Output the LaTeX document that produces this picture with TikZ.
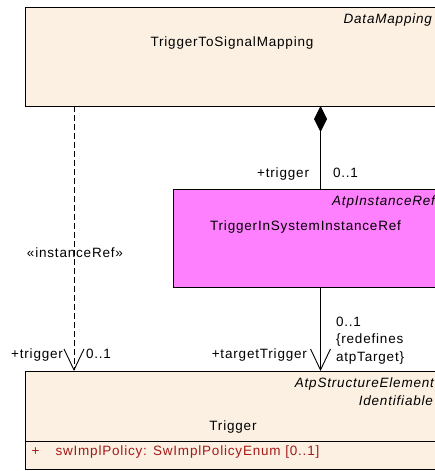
\documentclass[tikz,border=0pt]{standalone}
\usepackage{fontspec}
\setmainfont{Liberation Sans}[LetterSpace=6]
\usetikzlibrary{arrows.meta}
\definecolor{beige}{RGB}{251,240,226}
\definecolor{mag}{RGB}{255,128,255}
\definecolor{attr}{RGB}{165,25,25}
\begin{document}
\begin{tikzpicture}[x=1pt,y=-1pt,
  every node/.style={font=\fontsize{13.5}{15}\selectfont, inner sep=0pt, outer sep=0pt},
  box/.style={draw, line width=0.9pt, anchor=north west},
  lbl/.style={anchor=base},
  lblr/.style={anchor=base east},
  lbll/.style={anchor=base west},
  stereo/.style={anchor=base east, font=\fontsize{13.5}{15}\selectfont\itshape},
  conn/.style={line width=0.9pt},
  openarrow/.style={-{Straight Barb[length=21pt,width=20pt,line width=0.9pt]}}]
\useasboundingbox (0,0) rectangle (434,471);
% boxes
\node[box, fill=beige, minimum width=415pt, minimum height=99pt] (tsm) at (25,7) {};
\node[box, fill=mag, minimum width=267pt, minimum height=98pt] (tisir) at (173,189) {};
\node[box, fill=beige, minimum width=415pt, minimum height=98pt] (trg) at (25,371) {};
\coordinate (sep) at (25,441);
\draw[line width=0.9pt] (sep) -- (sep -| trg.east);
% texts
\node[stereo] (s1) at (432,23.5) {DataMapping};
\node[lbl] (n1) at (232,46) {TriggerToSignalMapping};
\node[stereo] (s2) at (435,205) {AtpInstanceRef};
\node[lbl] (n2) at (305.5,230) {TriggerInSystemInstanceRef};
\node[stereo] (s3) at (434,387) {AtpStructureElement};
\node[stereo] (s4) at (433,405) {Identifiable};
\node[lbl] (n3) at (233,430) {Trigger};
\node[lbl, text=attr] (ap) at (35.5,455) {+};
\node[lbll, text=attr] (at) at (55.5,455) {swImplPolicy: SwImplPolicyEnum [0..1]};
% connectors
\coordinate (xd) at (74,0);
\coordinate (xc) at (320.5,0);
\draw[conn, dash pattern=on 6pt off 3pt, openarrow] (tsm.south -| xd) -- (trg.north -| xd);
\draw[conn, {Diamond[length=26pt,width=13pt]}-] (tsm.south -| xc) -- (tisir.north -| xc);
\draw[conn, openarrow] (tisir.south -| xc) -- (trg.north -| xc);
% connector labels
\node[lbl] (l1) at (75,257) {«instanceRef»};
\node[lblr] (l2) at (309,177) {+trigger};
\node[lbll] (l3) at (333,177) {0..1};
\node[lblr] (l4) at (63,358) {+trigger};
\node[lbll] (l5) at (86,358) {0..1};
\node[lblr] (l6) at (307,358) {+targetTrigger};
\node[lbll] (l7) at (336,326) {0..1};
\node[lbll] (l8) at (336,343.5) {\{redefines};
\node[lbll] (l9) at (336,361) {atpTarget\}};
\end{tikzpicture}
\end{document}
